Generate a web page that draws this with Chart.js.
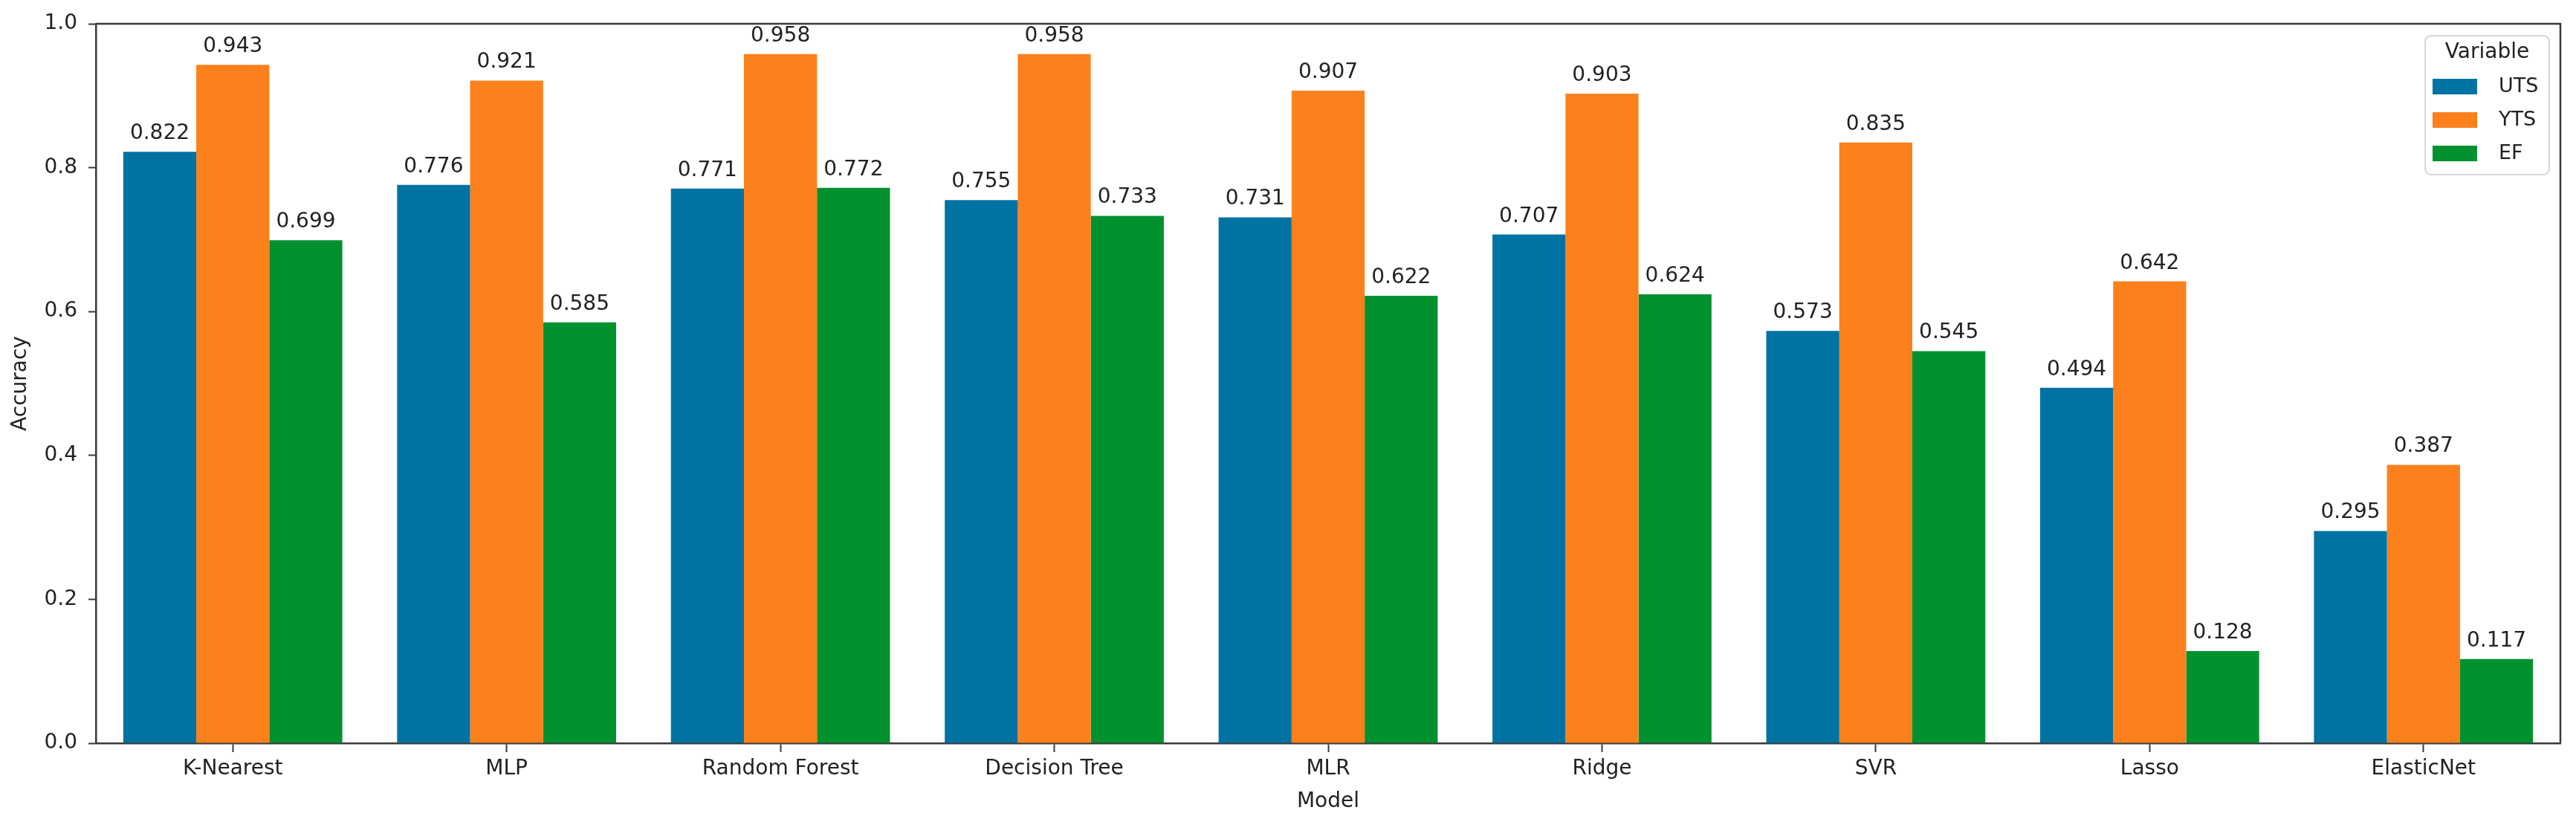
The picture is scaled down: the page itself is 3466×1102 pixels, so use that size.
<!DOCTYPE html>
<html>
<head>
<meta charset="utf-8">
<script src="https://cdn.jsdelivr.net/npm/chart.js@4.4.1/dist/chart.umd.min.js"></script>
<style>
    html, body { margin: 0; padding: 0; background: #ffffff; }
    #wrap { width: 3466px; height: 1102px; }
</style>
</head>
<body>
<div id="wrap"><canvas id="accuracyChart" width="3466" height="1102"></canvas></div>
<script>
// Chart data
const models = ['K-Nearest', 'MLP', 'Random Forest', 'Decision Tree', 'MLR', 'Ridge', 'SVR', 'Lasso', 'ElasticNet'];
const seriesNames = ['UTS', 'YTS', 'EF'];
const utsValues = [0.822, 0.776, 0.771, 0.755, 0.731, 0.707, 0.573, 0.494, 0.295];
const ytsValues = [0.943, 0.921, 0.958, 0.958, 0.907, 0.903, 0.835, 0.642, 0.387];
const efValues = [0.699, 0.585, 0.772, 0.733, 0.622, 0.624, 0.545, 0.128, 0.117];
const yTickValues = [0, 0.2, 0.4, 0.6, 0.8, 1.0];

const colors = ['#0173a2', '#fc801c', '#01912f'];
const axisColor = '#3a3a3a';
const textColor = '#222222';
const fontFamily = '"DejaVu Sans", Verdana, sans-serif';

// Value labels above each bar
const barLabels = {
    id: 'barLabels',
    afterDatasetsDraw(chart) {
        const ctx = chart.ctx;
        ctx.save();
        ctx.font = '28px ' + fontFamily;
        ctx.fillStyle = textColor;
        ctx.textAlign = 'center';
        ctx.textBaseline = 'alphabetic';
        chart.data.datasets.forEach((ds, i) => {
            const meta = chart.getDatasetMeta(i);
            meta.data.forEach((bar, j) => {
                ctx.fillText(ds.data[j].toFixed(3), bar.x, bar.y - 17);
            });
        });
        ctx.restore();
    }
};

// Box around plot + legend in the upper right corner
const frameAndLegend = {
    id: 'frameAndLegend',
    afterDraw(chart) {
        const ctx = chart.ctx;
        const a = chart.chartArea;
        ctx.save();
        ctx.strokeStyle = axisColor;
        ctx.lineWidth = 2.5;
        ctx.beginPath();
        ctx.moveTo(a.left, a.top);
        ctx.lineTo(a.right, a.top);
        ctx.lineTo(a.right, a.bottom);
        ctx.stroke();

        // legend box
        const w = 167, h = 187;
        const x = a.right - 15 - w;
        const y = a.top + 16;
        ctx.fillStyle = 'rgba(255,255,255,0.8)';
        ctx.strokeStyle = '#d6d6d6';
        ctx.lineWidth = 2;
        ctx.beginPath();
        ctx.roundRect(x, y, w, h, 8);
        ctx.fill();
        ctx.stroke();

        ctx.fillStyle = textColor;
        ctx.font = '28px ' + fontFamily;
        ctx.textAlign = 'center';
        ctx.textBaseline = 'middle';
        ctx.fillText('Variable', x + w / 2, y + 23);

        ctx.font = '27px ' + fontFamily;
        ctx.textAlign = 'left';
        chart.data.datasets.forEach((ds, i) => {
            const rowY = y + 68 + i * 45;
            ctx.fillStyle = ds.backgroundColor;
            ctx.fillRect(x + 10, rowY - 10, 60, 21);
            ctx.fillStyle = textColor;
            ctx.fillText(ds.label, x + 99, rowY + 1);
        });
        ctx.restore();
    }
};

const ctx = document.getElementById('accuracyChart');
const chart = new Chart(ctx, {
    type: 'bar',
    data: {
        labels: models,
        datasets: [
            { label: seriesNames[0], data: utsValues, backgroundColor: colors[0] },
            { label: seriesNames[1], data: ytsValues, backgroundColor: colors[1] },
            { label: seriesNames[2], data: efValues, backgroundColor: colors[2] }
        ]
    },
    options: {
        responsive: false,
        devicePixelRatio: 1,
        animation: false,
        layout: { padding: { left: 0, top: 32, right: 21, bottom: 0 } },
        datasets: {
            bar: { categoryPercentage: 0.8, barPercentage: 1.0, borderWidth: 0 }
        },
        plugins: {
            legend: { display: false },
            tooltip: { enabled: false }
        },
        scales: {
            x: {
                z: 1,
                offset: true,
                grid: {
                    offset: false,
                    drawOnChartArea: false,
                    drawTicks: true,
                    tickLength: 12,
                    tickWidth: 2,
                    tickColor: axisColor
                },
                border: { display: true, color: axisColor, width: 2.5 },
                ticks: {
                    color: textColor,
                    padding: 6,
                    maxRotation: 0,
                    autoSkip: false,
                    font: { family: fontFamily, size: 28 }
                },
                title: {
                    display: true,
                    text: 'Model',
                    color: textColor,
                    padding: { top: 2, bottom: 6 },
                    font: { family: fontFamily, size: 28 }
                },
                afterFit: function(scale) { scale.height = 102; }
            },
            y: {
                z: 1,
                min: 0,
                max: 1,
                afterBuildTicks: function(scale) {
                    scale.ticks = yTickValues.map(v => ({ value: v }));
                },
                grid: {
                    drawOnChartArea: false,
                    drawTicks: true,
                    tickLength: 10,
                    tickWidth: 2,
                    tickColor: axisColor
                },
                border: { display: true, color: axisColor, width: 2.5 },
                ticks: {
                    color: textColor,
                    padding: 15,
                    font: { family: fontFamily, size: 28 },
                    callback: function(value) { return Number(value).toFixed(1); }
                },
                title: {
                    display: true,
                    text: 'Accuracy',
                    color: textColor,
                    padding: { top: 11, bottom: 4 },
                    font: { family: fontFamily, size: 28 }
                },
                afterFit: function(scale) { scale.width = 129; }
            }
        }
    },
    plugins: [barLabels, frameAndLegend]
});
</script>
</body>
</html>
